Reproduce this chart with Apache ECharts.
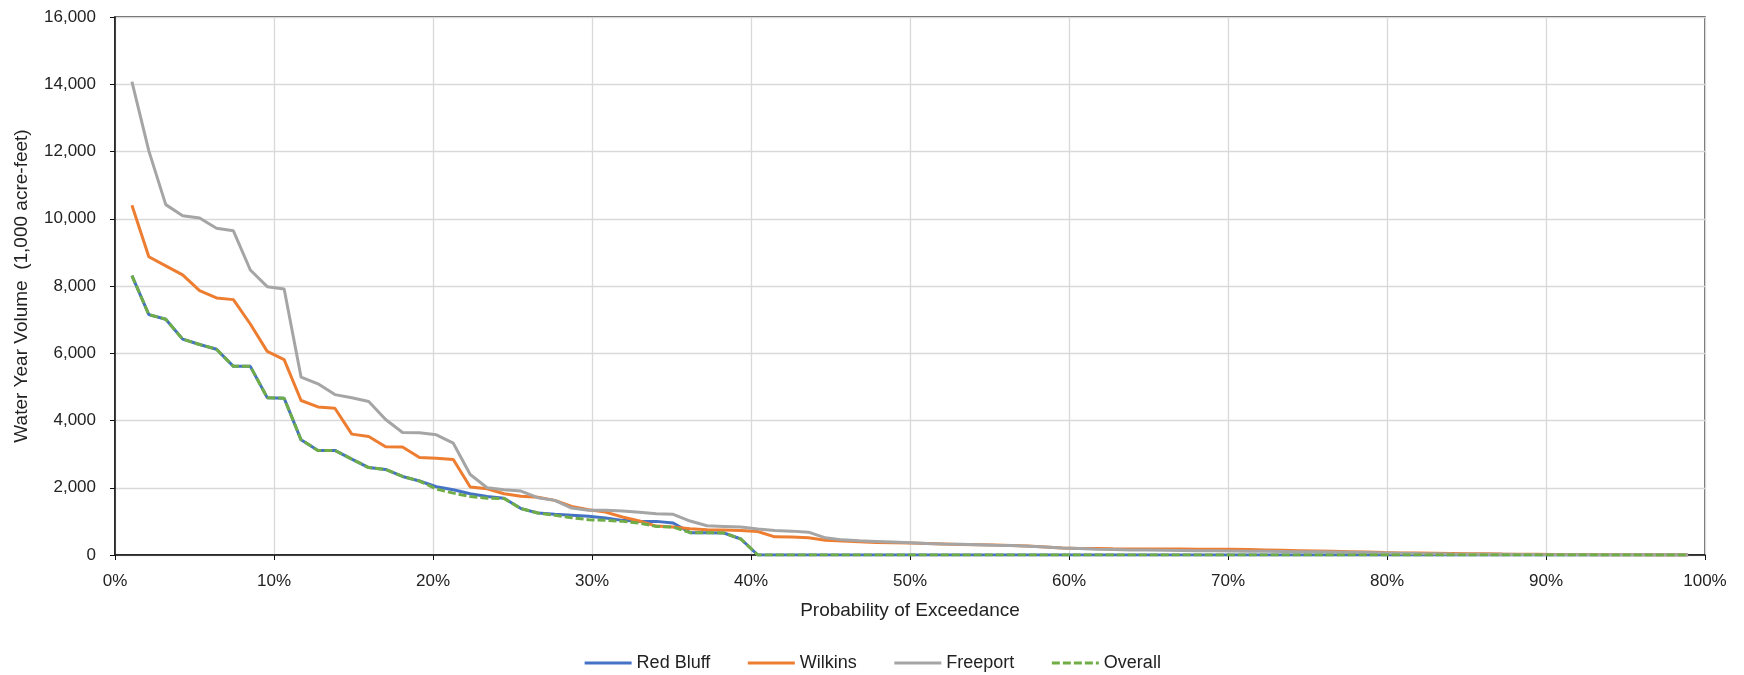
<!DOCTYPE html>
<html><head><meta charset="utf-8">
<script src="https://cdn.jsdelivr.net/npm/echarts@6/dist/echarts.min.js"></script>
<style>html,body{margin:0;padding:0;background:#fff}#c{width:1744px;height:675px}</style>
</head>
<body><div id="c"></div>
<script>
// Water year volume (1,000 acre-feet), sorted descending (rank 1..93)
const redBluff = [8310,7150,7010,6420,6260,6120,5610,5610,4680,4660,
  3425,3110,3110,2850,2600,2545,2335,2200,2030,1940,
  1820,1740,1690,1380,1250,1210,1180,1150,1100,1030,
  1000,1000,950,665,665,655,475,0,0,0,
  0,0,0,0,0,0,0,0,0,0,
  0,0,0,0,0,0,0,0,0,0,
  0,0,0,0,0,0,0,0,0,0,
  0,0,0,0,0,0,0,0,0,0,
  0,0,0,0,0,0,0,0,0,0,
  0,0,0];
const wilkins = [10400,8870,8600,8330,7860,7645,7595,6870,6055,5810,
  4595,4405,4365,3595,3525,3220,3210,2900,2880,2840,
  2020,1970,1820,1750,1720,1625,1445,1345,1275,1130,
  1010,860,830,780,750,740,730,700,540,535,
  515,440,415,395,375,365,355,345,330,315,
  305,295,285,265,240,205,195,190,185,182,
  180,178,175,172,170,168,160,150,140,130,
  120,110,100,90,75,62,58,52,46,40,
  35,30,26,22,18,15,12,9,7,5,
  3,2,1];
const freeport = [14080,12020,10420,10090,10020,9720,9640,8475,7980,7910,
  5290,5090,4770,4675,4565,4030,3645,3635,3575,3325,
  2395,2000,1940,1900,1705,1625,1395,1330,1330,1310,
  1270,1230,1210,1010,870,850,830,770,730,710,
  680,510,450,425,405,385,365,345,328,318,
  308,290,280,260,240,210,190,170,160,150,
  145,140,135,130,125,120,115,110,105,100,
  95,88,80,72,62,52,42,36,30,26,
  22,19,16,13,11,9,7,6,5,4,
  3,2,1];
const overall = [8310,7150,7010,6420,6260,6120,5610,5610,4680,4660,
  3425,3110,3110,2850,2600,2545,2335,2200,1960,1840,
  1740,1690,1680,1380,1250,1180,1110,1050,1030,1000,
  950,850,830,665,665,655,475,0,0,0,
  0,0,0,0,0,0,0,0,0,0,
  0,0,0,0,0,0,0,0,0,0,
  0,0,0,0,0,0,0,0,0,0,
  0,0,0,0,0,0,0,0,0,0,
  0,0,0,0,0,0,0,0,0,0,
  0,0,0];
const seriesNames = ['Red Bluff','Wilkins','Freeport','Overall'];
const xTitle = 'Probability of Exceedance';
const yTitle = 'Water Year Volume  (1,000 acre-feet)';

// exceedance probability = rank / (n + 1)
function toPoints(arr){ const n = arr.length; return arr.map((v,i)=>[(i+1)/(n+1), v]); }

const FONT = 'Liberation Sans';
const chart = echarts.init(document.getElementById('c'), null, {renderer:'canvas'});
chart.setOption({
  animation:false,
  backgroundColor:'#fff',
  textStyle:{fontFamily:FONT},
  grid:{left:115, right:39, top:17, bottom:120, show:true, borderColor:'#222', borderWidth:1.3, containLabel:false},
  legend:{
    data:seriesNames, left:'center', top:649, itemWidth:47, itemHeight:14, itemGap:36,
    itemStyle:{color:'transparent', borderColor:'transparent', borderWidth:0, opacity:0},
    lineStyle:{width:3},
    textStyle:{fontFamily:FONT, fontSize:18, color:'#222'}
  },
  xAxis:{
    type:'value', min:0, max:1, interval:0.1,
    name:xTitle, nameLocation:'middle', nameGap:46,
    nameTextStyle:{fontFamily:FONT, fontSize:19, color:'#222'},
    axisLine:{show:true, onZero:false, lineStyle:{color:'#111', width:1.5}},
    axisTick:{show:true, inside:false, length:5, lineStyle:{color:'#111'}},
    axisLabel:{margin:18, fontFamily:FONT, fontSize:17, color:'#222',
      formatter:v=>Math.round(v*100)+'%'},
    splitLine:{show:true, lineStyle:{color:'#d9d9d9', width:1.3}}
  },
  yAxis:{
    type:'value', min:0, max:16000, interval:2000,
    name:yTitle, nameLocation:'middle', nameGap:84,
    nameTextStyle:{fontFamily:FONT, fontSize:19, color:'#222'},
    axisLine:{show:true, lineStyle:{color:'#111', width:1.5}},
    axisTick:{show:true, inside:false, length:5, lineStyle:{color:'#111'}},
    axisLabel:{margin:19, fontFamily:FONT, fontSize:17, color:'#222',
      formatter:v=>v.toLocaleString('en-US')},
    splitLine:{show:true, lineStyle:{color:'#d9d9d9', width:1.3}}
  },
  series:[
    {name:seriesNames[0], type:'line', data:toPoints(redBluff), symbol:'none', color:'#4472C4', lineStyle:{width:3, color:'#4472C4'}},
    {name:seriesNames[1], type:'line', data:toPoints(wilkins), symbol:'none', color:'#ED7D31', lineStyle:{width:3, color:'#ED7D31'}},
    {name:seriesNames[2], type:'line', data:toPoints(freeport), symbol:'none', color:'#A5A5A5', lineStyle:{width:3, color:'#A5A5A5'}},
    {name:seriesNames[3], type:'line', data:toPoints(overall), symbol:'none', color:'#70AD47', lineStyle:{width:3, color:'#70AD47', type:[8,3]}}
  ]
});
</script></body></html>
